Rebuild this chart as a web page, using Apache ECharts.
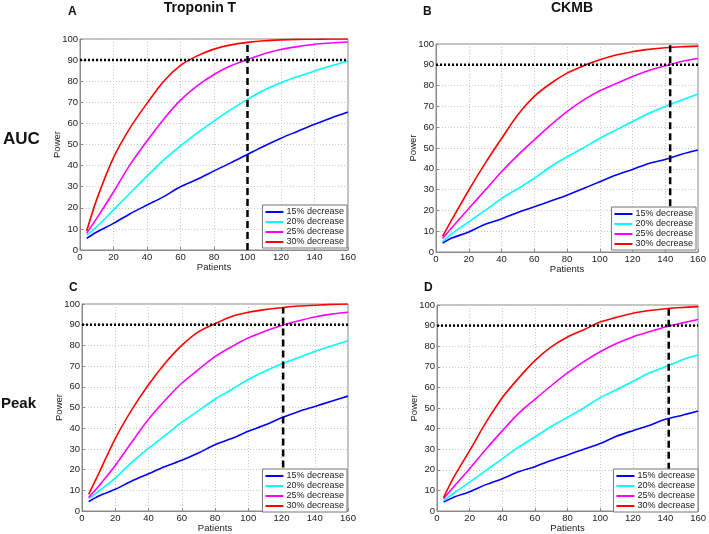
<!DOCTYPE html>
<html><head><meta charset="utf-8">
<script src="https://cdn.jsdelivr.net/npm/echarts@6/dist/echarts.min.js"></script>
<style>html,body{margin:0;padding:0;background:#fff}#c{width:709px;height:534px}</style>
</head><body><div id="c"></div>
<script>
const patients = [4,10,20,30,40,50,60,70,80,90,100,110,120,130,140,150,160];
const seriesNames = ['15% decrease','20% decrease','25% decrease','30% decrease'];
const panelLetters = ['A','B','C','D'];
const columnTitles = ['Troponin T','CKMB'];
const rowTitles = ['AUC','Peak'];
const yTicks = [0,10,20,30,40,50,60,70,80,90,100];
const xTicks = [0,20,40,60,80,100,120,140,160];
const targetPower = 90;
const requiredPatients = [100,143,121,142];
const dashedBottom = [0,22,21,20];
const dashedTop = [98,100,98.2,98];

// Panel A: Troponin T, AUC
const A15 = [5.5,8.5,12.6,17.2,21.3,25.3,30,33.5,37.5,41.3,45.3,49.3,53,56.3,59.6,62.6,65.4];
const A20 = [7,11,19,27,35,42.6,49.3,55.5,61.1,66.5,71.4,75.8,79.3,82.2,84.8,87.3,89.6];
const A25 = [8,15,27.5,40.6,51.7,62,71,77.8,83.2,87.3,90.3,93,95,96.4,97.5,98.1,98.6];
const A30 = [9,24,43.8,58,69.5,80,87.5,92,95.2,97.2,98.4,99.2,99.6,99.8,99.9,100,100];
// Panel B: CKMB, AUC
const B15 = [4.3,6.8,9.6,13.3,15.9,19,21.7,24.5,27.3,30.5,33.8,37,39.7,42.6,44.5,47,49];
const B20 = [5,9,14.5,20,25.7,30.5,35.4,41,45.8,50,54.7,58.7,62.7,66.7,70,73,76];
const B25 = [6.5,12,20.9,29.7,38.6,46.6,53.9,61,67.5,73,77.5,81,84.4,87.3,89.5,91.6,93];
const B30 = [7.5,16,29.7,42.6,54.5,66,74.8,81,86,89.5,92.4,94.7,96.3,97.4,98.2,98.7,99];
// Panel C: Troponin T, Peak
const C15 = [4.5,7.2,10.5,14.5,18,21.5,24.5,28,32,35,38.5,41.5,45,48,50.5,53,55.5];
const C20 = [6,9.5,15.9,23.5,30.2,36.5,42.9,48.4,54,58.7,63.5,67.5,71,74,77,79.7,82.2];
const C25 = [6.5,12,22,33.3,44.3,53.5,61.7,68.3,74.6,79.4,83.6,86.8,89.6,91.8,93.7,95.1,96];
const C30 = [8,18,35,49,61,71.4,80,86.5,90.5,94,96,97.3,98.2,99,99.4,99.8,100];
// Panel D: CKMB, Peak
const D15 = [4.3,6.6,9.3,12.8,15.7,19,21.5,24.5,27.2,30,32.8,36.3,39,41.5,44.5,46.4,48.5];
const D20 = [5,8.5,14,19.7,25.3,31,35.9,41,45.5,50,55,58.9,62.9,67,70,73.3,75.7];
const D25 = [6,11.5,20.5,30,38.9,47.4,54.2,60.8,67,72.5,77.3,81.3,84.5,87,89.3,91.2,93];
const D30 = [6.5,16,29.3,43,55,64.5,73,79.7,84.5,88,91.7,94,96,97.3,98.2,98.8,99.2];

const panelData = [[A15,A20,A25,A30],[B15,B20,B25,B30],[C15,C20,C25,C30],[D15,D20,D25,D30]];
const colors = ['#0000ff','#00ffff','#ff00ff','#ff0000'];

const grids = [
  {left:80, top:39, width:268, height:211},
  {left:436, top:44, width:262, height:208},
  {left:82, top:304, width:266, height:210},
  {left:437, top:305, width:264, height:208}
];
const legendPos = [
  {right:362, top:205},
  {right:13, top:207},
  {right:362, top:469},
  {right:11, top:469}
];
const font = 'Liberation Sans, Arial, sans-serif';

const option = {
  animation:false,
  backgroundColor:'#fff',
  title:[],
  grid:[], xAxis:[], yAxis:[], legend:[], series:[]
};

columnTitles.forEach((t,i)=>{
  option.title.push({text:t, left:[200,572][i], top:1, textAlign:'center', padding:0,
    textStyle:{fontFamily:font, fontSize:14, fontWeight:'bold', color:'#111'}});
});
rowTitles.forEach((t,i)=>{
  option.title.push({text:t, left:[3,1][i], top:[131,396][i], padding:0,
    textStyle:{fontFamily:font, fontSize:[17,15][i], fontWeight:'bold', color:'#111'}});
});
panelLetters.forEach((t,i)=>{
  option.title.push({text:t, left:[68,423,69,424][i], top:[6,6,282,282][i], padding:0,
    textStyle:{fontFamily:font, fontSize:12, fontWeight:'bold', color:'#111'}});
});

grids.forEach((g,i)=>{
  option.grid.push(Object.assign({show:true, borderColor:'#8a8a8a', borderWidth:1, backgroundColor:'#fff'}, g));
  option.xAxis.push({
    type:'value', gridIndex:i, min:xTicks[0], max:xTicks[xTicks.length-1], interval:xTicks[1]-xTicks[0],
    name:'Patients', nameLocation:'middle', nameGap:12, nameMoveOverlap:false,
    nameTextStyle:{fontFamily:font, fontSize:9.5, color:'#222'},
    axisLine:{show:true, lineStyle:{color:'#8a8a8a'}},
    axisTick:{show:true, inside:true, length:3, lineStyle:{color:'#8a8a8a'}},
    axisLabel:{fontFamily:font, fontSize:9.5, color:'#222', margin:2},
    splitLine:{show:true, lineStyle:{color:'#c8c8c8', type:[1,2], width:1}}
  });
  option.yAxis.push({
    type:'value', gridIndex:i, min:yTicks[0], max:yTicks[yTicks.length-1], interval:yTicks[1]-yTicks[0],
    name:'Power', nameLocation:'middle', nameGap:18, nameRotate:90, nameMoveOverlap:false,
    nameTextStyle:{fontFamily:font, fontSize:9.5, color:'#222'},
    axisLine:{show:true, lineStyle:{color:'#8a8a8a'}},
    axisTick:{show:true, inside:true, length:3, lineStyle:{color:'#8a8a8a'}},
    axisLabel:{fontFamily:font, fontSize:9.5, color:'#222', margin:2},
    splitLine:{show:true, lineStyle:{color:'#c8c8c8', type:[1,2], width:1}}
  });
  // reference lines
  option.series.push({
    type:'line', xAxisIndex:i, yAxisIndex:i, symbol:'none', silent:true, z:3,
    data:[[xTicks[0],targetPower],[xTicks[xTicks.length-1],targetPower]],
    lineStyle:{color:'#000', width:2.5, type:[2,2]}
  });
  option.series.push({
    type:'line', xAxisIndex:i, yAxisIndex:i, symbol:'none', silent:true, z:3,
    data:[[requiredPatients[i],dashedBottom[i]],[requiredPatients[i],dashedTop[i]]],
    lineStyle:{color:'#000', width:2.5, type:[7,4]}
  });
  panelData[i].forEach((arr,k)=>{
    option.series.push({
      name:seriesNames[k], type:'line', xAxisIndex:i, yAxisIndex:i, symbol:'none', smooth:0.3,
      data:patients.map((p,j)=>[p,arr[j]]),
      lineStyle:{color:colors[k], width:1.6}, itemStyle:{color:colors[k]}, z:2
    });
  });
  option.legend.push(Object.assign({
    orient:'vertical', data:seriesNames, icon:'rect', itemWidth:18, itemHeight:2, itemGap:0,
    padding:[2,3,1,3], backgroundColor:'#fff', borderColor:'#777', borderWidth:1, borderRadius:0,
    selectedMode:false, z:10,
    textStyle:{fontFamily:font, fontSize:9, lineHeight:10, color:'#222', padding:[0,0,0,-2]}
  }, legendPos[i]));
});

const chart = echarts.init(document.getElementById('c'), null, {renderer:'canvas'});
chart.setOption(option);
</script>
</body></html>
